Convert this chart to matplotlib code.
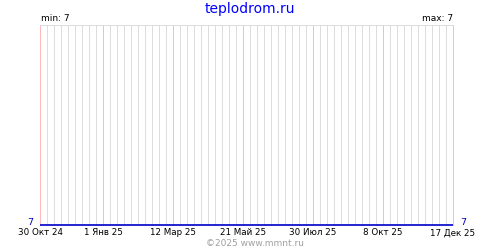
import matplotlib
matplotlib.use("Agg")
import matplotlib.pyplot as plt
from datetime import datetime, timedelta

# ----------------------------
# Data
# ----------------------------
dates = ["2024-10-30", "2025-12-17"]
temps = [7, 7]

tick_dates = ["2024-10-30", "2025-01-01", "2025-03-12", "2025-05-21",
              "2025-07-30", "2025-10-08", "2025-12-17"]
tick_labels = ["30 Окт 24", "1 Янв 25", "12 Мар 25", "21 Май 25",
               "30 Июл 25", "8 Окт 25", "17 Дек 25"]

x = [datetime.strptime(d, "%Y-%m-%d") for d in dates]
xt = [datetime.strptime(d, "%Y-%m-%d") for d in tick_dates]

# ----------------------------
# Plot styling
# ----------------------------
plt.rcParams.update({"font.family": "DejaVu Sans", "font.size": 6.3})

fig = plt.figure(figsize=(5, 2.5), dpi=100)
ax = fig.add_axes([0.08, 0.1, 0.826, 0.8])

# weekly grey grid, pink at labelled dates
week = x[0]
while week <= x[-1]:
    if week not in xt:
        ax.axvline(week, color="#dddddd", linewidth=0.5, antialiased=False,
                   zorder=1, clip_on=False)
    week += timedelta(days=7)
for d in xt:
    ax.axvline(d, color="#ffbbbb", linewidth=0.5, antialiased=False,
               zorder=2, clip_on=False)

ax.plot(x, temps, color="#0000cc", linewidth=1.2, zorder=3,
        solid_capstyle="butt", clip_on=False)

ax.set_xlim(x[0], x[-1])
ax.set_ylim(min(temps), min(temps) + 1)
ax.set_xticks(xt)
ax.set_xticklabels(tick_labels)
ax.set_yticks([])
ax.tick_params(axis="x", length=0, pad=2.5)

for s in ["left", "right", "bottom"]:
    ax.spines[s].set_visible(False)
ax.spines["top"].set_color("#dddddd")
ax.spines["top"].set_linewidth(0.5)
ax.spines["top"].set_antialiased(False)

# end labels
ax.text(-7 / 413, 0.012, "7", transform=ax.transAxes, color="#0000cc",
        ha="right", va="center", fontsize=6.8)
ax.text(1 + 7 / 413, 0.012, "7", transform=ax.transAxes, color="#0000cc",
        ha="left", va="center", fontsize=6.8)
ax.text(0.002, 1.01, "min: " + str(min(temps)), transform=ax.transAxes,
        ha="left", va="bottom", fontsize=6.5)
ax.text(1.0, 1.01, "max: " + str(max(temps)), transform=ax.transAxes,
        ha="right", va="bottom", fontsize=6.5)

fig.text(0.5, 0.965, "teplodrom.ru", color="#0000ff", ha="center",
         va="center", fontsize=10)
fig.text(0.51, 0.028, "©2025 www.mmnt.ru", color="#a0a0a0", ha="center",
         va="center", fontsize=6.5)

fig.savefig("out.png", dpi=100)
